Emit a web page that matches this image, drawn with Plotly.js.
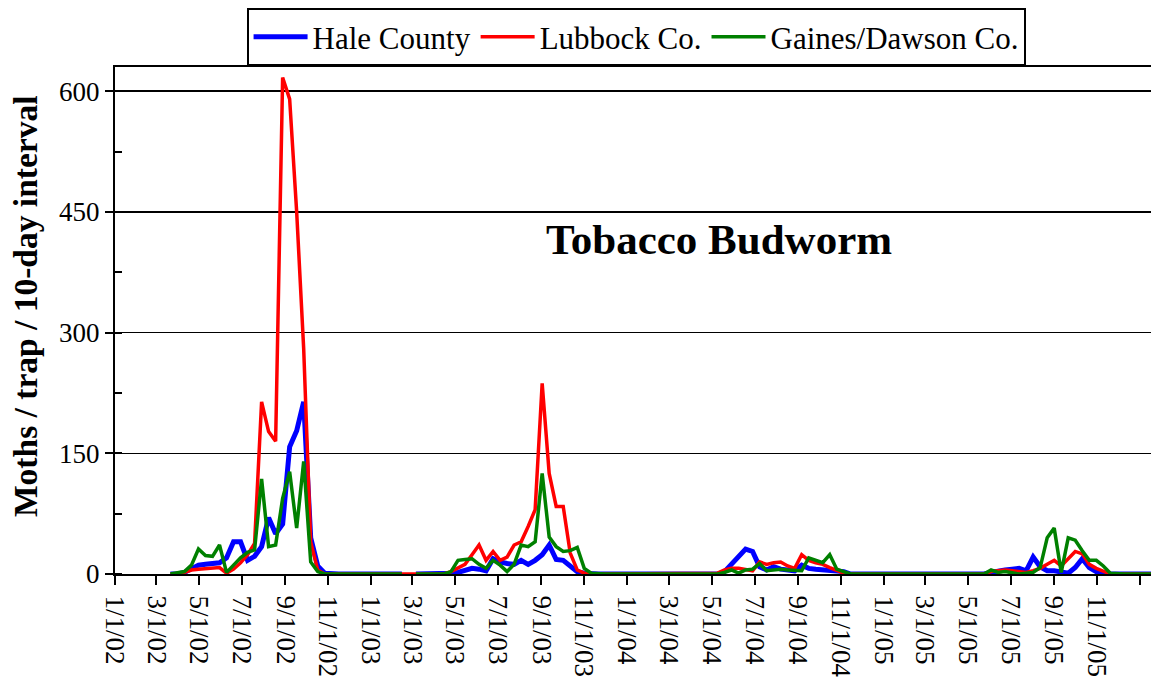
<!DOCTYPE html>
<html>
<head>
<meta charset="utf-8">
<script src="https://cdn.plot.ly/plotly-3.0.1.min.js"></script>
<style>html,body{margin:0;padding:0;background:#fff;}#chart{width:1151px;height:679px;}</style>
</head>
<body>
<div id="chart"></div>
<script>
// 10-day trap intervals, starting 21 Mar 2002
const startDate = '2002-03-21';
const stepDays = 10;

const seriesNames = ['Hale County', 'Lubbock Co.', 'Gaines/Dawson Co.'];
const seriesColors = ['#0000FF', '#FF0000', '#008000'];

const hale = [
  0,0,2,7,11,12,13,14,20,40,
  40,17,22,34,70,50,62,158,178,214,
  45,10,1,0,0,0,0,0,0,0,
  0,0,0,0,null,0,0,0,0,0,
  1,2,4,7,6,4,19,15,13,12,
  17,12,17,24,36,18,17,9,3,1,
  0,0,0,0,0,0,0,0,0,0,
  0,0,0,0,0,0,0,0,0,3,
  12,22,31,28,9,5,9,6,5,4,
  11,7,6,5,4,3,3,0,0,0,
  0,0,0,0,0,0,0,0,0,0,
  0,0,0,0,0,0,0,2,4,5,
  6,7,4,21,9,4,4,3,1,8,
  19,8,3,0,0,0,0,0,0,0,
  0,0
];

const lubbock = [
  0,0,2,5,6,7,7,8,1,6,
  14,24,38,214,177,165,617,590,450,280,
  40,5,0,0,0,0,0,0,0,0,
  0,0,0,0,0,0,0,0,0,0,
  3,7,12,24,36,17,28,17,21,36,
  40,59,80,237,125,84,84,26,5,1,
  0,0,0,0,0,0,0,0,0,0,
  0,0,0,0,0,0,0,0,1,5,
  7,7,5,4,15,12,14,15,10,7,
  24,17,14,12,8,5,1,0,0,0,
  0,0,0,0,0,0,0,0,0,0,
  0,0,0,0,0,0,0,3,4,5,
  4,3,2,4,7,12,17,10,19,28,
  25,12,7,3,0,0,0,0,0,0,
  0,0
];

const gaines = [
  0,1,3,11,31,23,22,36,2,11,
  20,27,30,118,34,36,94,127,57,140,
  15,3,0,0,0,0,0,0,0,0,
  0,0,0,0,null,0,0,0,0,0,
  3,17,18,19,12,7,17,11,3,12,
  36,34,40,125,46,34,28,29,33,7,
  1,0,0,0,0,0,0,0,0,0,
  0,0,0,0,0,0,0,0,0,2,
  5,1,5,6,13,4,5,6,5,4,
  4,20,17,14,24,6,3,0,0,0,
  0,0,0,0,0,0,0,0,0,0,
  0,0,0,0,0,0,0,5,2,3,
  2,0,1,2,8,45,57,2,45,42,
  29,17,17,10,1,0,0,0,0,0,
  0,0
];

const yTickValues = [0, 150, 300, 450, 600];
const yTitle = 'Moths / trap / 10-day interval';
const chartTitle = 'Tobacco Budworm';

function buildDates(n) {
  const out = [];
  const t0 = new Date(startDate + 'T00:00:00Z').getTime();
  for (let i = 0; i < n; i++) {
    const d = new Date(t0 + i * stepDays * 86400000);
    out.push(d.toISOString().slice(0, 10));
  }
  return out;
}
const dates = buildDates(hale.length);

const font = 'Liberation Serif, Times New Roman, serif';
const values = [hale, lubbock, gaines];
const widths = [5, 3.5, 3.5];

const traces = values.map((v, i) => ({
  type: 'scatter', mode: 'lines', name: seriesNames[i],
  x: dates, y: v, connectgaps: false,
  line: {color: seriesColors[i], width: widths[i]}
}));

const layout = {
  width: 1151, height: 679,
  margin: {l: 115, r: 0, t: 67, b: 105},
  paper_bgcolor: '#fff', plot_bgcolor: '#fff',
  font: {family: font, color: '#000'},
  showlegend: true,
  legend: {
    orientation: 'h', x: 0.127, y: 1.116, xanchor: 'left', yanchor: 'top',
    bordercolor: '#000', borderwidth: 2, bgcolor: '#fff',
    font: {family: font, size: 31, color: '#000'},
    itemwidth: 54
  },
  xaxis: {
    type: 'date', range: ['2002-01-01', '2006-01-17'],
    tick0: '2002-01-01', dtick: 'M2', tickformat: '%-m/%-d/%y',
    tickangle: 90, ticks: 'outside', ticklen: 9, tickwidth: 2, tickcolor: '#000',
    ticklabelstandoff: 5,
    showgrid: false, showline: true, linecolor: '#000', linewidth: 2, mirror: true,
    zeroline: false,
    tickfont: {family: font, size: 27, color: '#000'}
  },
  yaxis: {
    range: [0, 630], tickvals: yTickValues, ticktext: yTickValues.map(String),
    ticks: 'outside', ticklen: 8, tickwidth: 2, tickcolor: '#000',
    showgrid: true, gridcolor: '#000', gridwidth: 1.5,
    showline: true, linecolor: '#000', linewidth: 2, zeroline: false,
    minor: {dtick: 75, tick0: 0, ticks: 'inside', ticklen: 7, tickwidth: 2, tickcolor: '#000', showgrid: false},
    tickfont: {family: font, size: 27, color: '#000'}
  },
  annotations: [{
    xref: 'paper', yref: 'paper', x: 0.583, y: 0.659, xanchor: 'center', yanchor: 'middle',
    text: '<b>' + chartTitle + '</b>', showarrow: false,
    font: {family: font, size: 43, color: '#000'}
  }, {
    xref: 'paper', yref: 'paper', x: -0.0859, y: 0.5286, xanchor: 'center', yanchor: 'middle',
    text: '<b>' + yTitle + '</b>', showarrow: false, textangle: -90,
    font: {family: font, size: 33.5, color: '#000'}
  }]
};

Plotly.newPlot('chart', traces, layout, {displayModeBar: false, staticPlot: true});
</script>
</body>
</html>
